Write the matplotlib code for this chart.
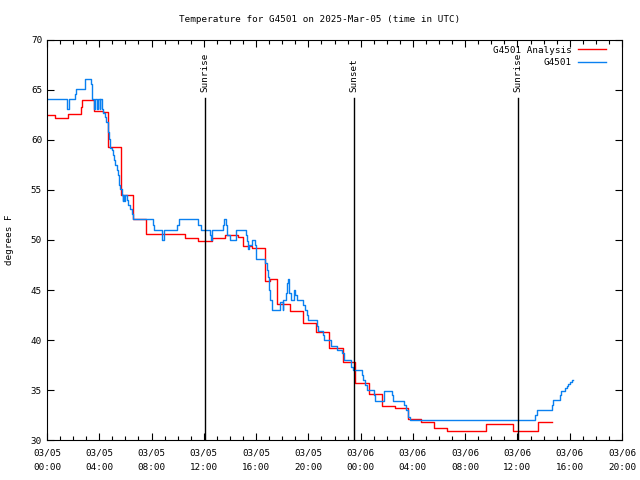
import matplotlib
matplotlib.use("Agg")
import matplotlib.pyplot as plt
import numpy as np

# hours since 2025-03-05 00:00 UTC, temperature in F
analysis_hours = [0.0, 0.61, 1.58, 2.58, 2.65, 3.62, 4.31, 4.65, 5.64, 6.60, 7.57,
                  10.56, 11.58, 12.60, 13.62, 14.64, 15.02, 15.66, 16.65, 17.06,
                  17.57, 18.59, 19.61, 20.58, 21.60, 22.62, 23.57, 24.66, 25.61,
                  26.63, 27.64, 28.62, 29.61, 30.63, 33.59, 35.68, 37.59, 38.62]
analysis_temp = [62.5, 62.2, 62.6, 63.3, 64.0, 62.9, 62.8, 59.3, 54.5, 52.1, 50.6,
                 50.2, 49.9, 50.2, 50.5, 50.3, 49.4, 49.2, 45.9, 46.1,
                 43.6, 42.9, 41.7, 40.8, 39.2, 37.8, 35.7, 34.6, 33.4,
                 33.2, 32.1, 31.8, 31.2, 30.9, 31.6, 30.9, 31.8, 31.8]

obs_hours = [0.0, 1.51, 1.71, 2.14, 2.20, 2.91, 3.37, 3.47, 3.63, 3.71, 3.83, 3.90,
             4.02, 4.09, 4.19, 4.31, 4.44, 4.51, 4.64, 4.74, 4.82, 4.95, 5.03, 5.13,
             5.23, 5.33, 5.43, 5.51, 5.59, 5.72, 5.78, 5.84, 5.89, 5.97, 6.14, 6.22,
             6.35, 6.48, 6.60, 8.09, 8.19, 8.82, 8.95, 9.97, 10.12, 11.58, 11.76,
             12.47, 12.52, 12.62, 13.49, 13.56, 13.67, 13.77, 14.00, 14.46, 15.23,
             15.30, 15.40, 15.48, 15.66, 15.91, 15.99, 16.68, 16.86, 16.93, 17.01,
             17.08, 17.19, 17.83, 18.03, 18.08, 18.26, 18.34, 18.46, 18.52, 18.65,
             18.90, 19.00, 19.10, 19.61, 19.74, 19.87, 19.99, 20.63, 20.76, 21.14,
             21.22, 21.71, 22.17, 22.55, 22.75, 23.26, 23.39, 24.08, 24.15, 24.33,
             24.46, 25.02, 25.10, 25.81, 26.37, 26.50, 27.31, 27.44, 27.64, 27.77,
             37.34, 37.47, 38.62, 38.69, 39.25, 39.33, 39.63, 39.76, 39.89, 40.02,
             40.15, 40.23]
obs_temp = [64.1, 63.1, 64.1, 64.6, 65.1, 66.1, 65.6, 64.1, 63.1, 64.1, 63.1, 64.1,
            63.1, 64.1, 63.1, 62.7, 62.3, 61.8, 60.8, 60.1, 59.2, 59.0, 58.5, 58.0,
            57.5, 57.0, 56.5, 55.5, 55.1, 54.5, 53.9, 54.5, 53.9, 54.5, 54.0, 53.5,
            53.1, 52.6, 52.1, 51.5, 51.0, 50.0, 51.0, 51.5, 52.1, 51.5, 51.0,
            50.5, 50.0, 51.0, 51.5, 52.1, 51.5, 50.5, 50.0, 51.0, 50.5,
            49.9, 49.1, 49.5, 50.0, 49.5, 48.1, 47.7, 47.0, 46.3, 45.0,
            44.0, 43.0, 43.8, 43.0, 44.0, 44.7, 45.7, 46.1, 44.7, 44.0,
            45.0, 44.5, 44.0, 43.5, 43.0, 42.5, 42.0, 41.4, 40.9, 40.5,
            40.0, 39.4, 39.0, 38.7, 38.0, 37.3, 37.0, 36.5, 36.0, 35.5,
            35.0, 34.5, 33.9, 34.9, 34.5, 33.9, 33.5, 33.0, 32.3, 32.0,
            32.5, 33.0, 33.5, 34.0, 34.5, 34.9, 35.2, 35.4, 35.6, 35.8,
            36.0, 36.0]

events = ["Sunrise", "Sunset", "Sunrise"]
event_hours = [12.08, 23.49, 36.04]

tick_hours = [0, 4, 8, 12, 16, 20, 24, 28, 32, 36, 40, 44]
tick_labels = ["03/05\n00:00", "03/05\n04:00", "03/05\n08:00", "03/05\n12:00",
               "03/05\n16:00", "03/05\n20:00", "03/06\n00:00", "03/06\n04:00",
               "03/06\n08:00", "03/06\n12:00", "03/06\n16:00", "03/06\n20:00"]

plt.rcParams['font.family'] = ['DejaVu Sans Mono']
fs = 6.7

fig = plt.figure(figsize=(6.4, 4.8), dpi=100)
ax = fig.add_axes([47/640, 40/480, 575/640, 400/480])

ax.step(analysis_hours, analysis_temp, where='post', color='#ff0000', lw=1.0,
        label='G4501 Analysis')
ax.step(obs_hours, obs_temp, where='post', color='#0a80f0', lw=1.0, label='G4501')

for name, h in zip(events, event_hours):
    ax.plot([h, h], [30, 64.2], color='black', lw=1.0)
    ax.text(h, 64.8, name, rotation=90, ha='center', va='bottom', fontsize=fs)

ax.set_xlim(0, 44)
ax.set_ylim(30, 70)
ax.set_xticks(tick_hours)
ax.set_xticklabels(tick_labels, fontsize=fs, linespacing=1.75)
ax.set_xticks(np.arange(0, 45, 1), minor=True)
ax.set_yticks(np.arange(30, 71, 5))
ax.tick_params(axis='y', labelsize=fs)
ax.tick_params(which='major', direction='in', length=5, width=0.8,
               top=True, right=True)
ax.tick_params(which='minor', direction='in', length=3, width=0.8,
               top=True, right=True)
ax.tick_params(axis='x', pad=6)
for s in ax.spines.values():
    s.set_linewidth(0.8)

ax.set_ylabel('degrees F', fontsize=fs, labelpad=12)
fig.text(0.5, 1 - 20/480, 'Temperature for G4501 on 2025-Mar-05 (time in UTC)',
         ha='center', va='center', fontsize=fs)

ax.legend(loc='upper right', frameon=False, markerfirst=False, fontsize=fs,
          handlelength=3.0, handletextpad=0.7, labelspacing=0.35,
          borderaxespad=0.2, bbox_to_anchor=(0.982, 1.0))

fig.savefig('out.png', dpi=100)
